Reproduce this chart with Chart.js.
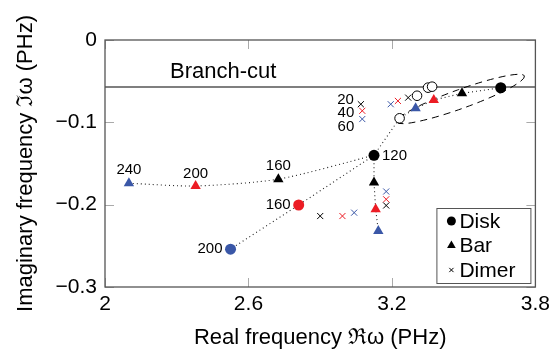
<!DOCTYPE html>
<html><head><meta charset="utf-8">
<script src="https://cdn.jsdelivr.net/npm/chart.js@4/dist/chart.umd.min.js"></script>
<style>html,body{margin:0;padding:0;background:#fff}canvas{display:block}</style>
</head><body>
<canvas id="c" width="555" height="352"></canvas>
<script>
// ---------- data ----------
const xTicks = [2, 2.6, 3.2, 3.8];
const yTicks = [0, -0.1, -0.2, -0.3];
const branchCutY = -0.057;

const diskBlack = [{x:3.655,y:-0.058},{x:3.125,y:-0.140}];
const diskRed   = [{x:2.81,y:-0.2004}];
const diskBlue  = [{x:2.525,y:-0.254}];
const diskOpen  = [{x:3.232,y:-0.0951},{x:3.305,y:-0.0677},{x:3.351,y:-0.0579},{x:3.368,y:-0.0567}];

const barBlack = [{x:3.493,y:-0.0648},{x:3.125,y:-0.173},{x:2.725,y:-0.169}];
const barRed   = [{x:3.375,y:-0.0729},{x:3.132,y:-0.2057},{x:2.379,y:-0.1773}];
const barBlue  = [{x:3.299,y:-0.083},{x:3.143,y:-0.232},{x:2.10,y:-0.174}];

const dimerBlack = [{x:3.07,y:-0.078},{x:3.268,y:-0.070},{x:3.176,y:-0.201},{x:2.90,y:-0.2138}];
const dimerRed   = [{x:3.076,y:-0.086},{x:3.225,y:-0.074},{x:3.176,y:-0.1935},{x:2.993,y:-0.2138}];
const dimerBlue  = [{x:3.076,y:-0.096},{x:3.195,y:-0.078},{x:3.176,y:-0.184},{x:3.042,y:-0.2097}];

const ellipseEnds = [{x:3.22,y:-0.0996},{x:3.754,y:-0.0437}];

const pointLabelTexts = ['240','200','160','160','200','120','20','40','60'];
const pointLabelAnchors = [barBlue[2], barRed[2], barBlack[2], diskRed[0], diskBlue[0], diskBlack[1], dimerBlack[0], dimerRed[0], dimerBlue[0]];
const legendLabels = ['Disk','Bar','Dimer'];
const branchCutText = 'Branch-cut';
const xTitle = 'Real frequency \u211Cω (PHz)';
const yTitle = 'Imaginary frequency \u2111ω (PHz)';

// ---------- styles ----------
const FONT = "'Liberation Sans', Arial, Helvetica, sans-serif";
const BLACK = '#000000', RED = '#ec1c24', BLUE = '#3a57a7';
const labelStyle = [
  {dx:0,dy:-13,align:'center'}, {dx:0,dy:-12,align:'center'}, {dx:0,dy:-13,align:'center'},
  {dx:-8,dy:0,align:'right'}, {dx:-8,dy:0,align:'right'}, {dx:8,dy:1,align:'left'},
  {dx:-7,dy:-4,align:'right'}, {dx:-8,dy:2,align:'right'}, {dx:-8,dy:8,align:'right'}
];

const paths = [
  [diskBlack[0], barBlack[0], barRed[0], barBlue[0], diskOpen[0], diskBlack[1]],
  [diskBlack[1], diskRed[0], diskBlue[0]],
  [barBlue[2], barRed[2], barBlack[2], diskBlack[1]],
  [diskBlack[1], barBlack[1], barRed[1], barBlue[1]]
];

function marker(data, style, color, radius, extra) {
  return Object.assign({
    data: data, showLine: false, order: 0,
    pointStyle: style, pointRadius: radius, pointHoverRadius: radius,
    pointBackgroundColor: color, pointBorderColor: color, pointBorderWidth: 0
  }, extra || {});
}

const datasets = [];
datasets.push(marker(diskBlack, 'circle', BLACK, 5.5));
datasets.push(marker(diskRed, 'circle', RED, 5.5));
datasets.push(marker(diskBlue, 'circle', BLUE, 5.5));
datasets.push(marker(diskOpen, 'circle', '#fff', 4.8, {pointBorderColor: BLACK, pointBorderWidth: 1}));
datasets.push(marker(barBlack, 'triangle', BLACK, 6));
datasets.push(marker(barRed, 'triangle', RED, 6));
datasets.push(marker(barBlue, 'triangle', BLUE, 6));
datasets.push(marker(dimerBlack, 'crossRot', BLACK, 4.3, {pointBorderWidth: 1}));
datasets.push(marker(dimerRed, 'crossRot', RED, 4.3, {pointBorderWidth: 1}));
datasets.push(marker(dimerBlue, 'crossRot', BLUE, 4.3, {pointBorderWidth: 1}));
paths.forEach((p, i) => datasets.push({
  data: p, showLine: true, order: 10, pointRadius: 0, borderColor: '#222', borderWidth: 1.1,
  borderDash: [1, 3], tension: i === 2 ? 0.25 : 0, fill: false
}));
datasets.push({
  data: [{x: xTicks[0], y: branchCutY}, {x: xTicks[xTicks.length-1], y: branchCutY}],
  showLine: true, order: 11, pointRadius: 0, borderColor: BLACK, borderWidth: 1.1, fill: false
});

function fmt(v) {
  const s = String(Math.round(v * 1000) / 1000);
  return s.replace('-', '\u2212');
}

const decor = {
  id: 'decor',
  beforeDatasetsDraw(chart) {
    const {ctx, scales: {x, y}} = chart;
    const x1 = x.getPixelForValue(ellipseEnds[0].x), y1 = y.getPixelForValue(ellipseEnds[0].y);
    const x2 = x.getPixelForValue(ellipseEnds[1].x), y2 = y.getPixelForValue(ellipseEnds[1].y);
    const cx = (x1 + x2) / 2, cy = (y1 + y2) / 2;
    const rx = Math.hypot(x2 - x1, y2 - y1) / 2, rot = Math.atan2(y2 - y1, x2 - x1);
    ctx.save();
    ctx.strokeStyle = BLACK; ctx.lineWidth = 1; ctx.setLineDash([7, 5]);
    ctx.beginPath(); ctx.ellipse(cx, cy, rx, 9.5, rot, 0, Math.PI * 2); ctx.stroke();
    ctx.restore();
  },
  afterDatasetsDraw(chart) {
    const {ctx, chartArea: a, scales: {x, y}} = chart;
    ctx.save();
    ctx.fillStyle = BLACK; ctx.font = '15px ' + FONT; ctx.textBaseline = 'middle';
    pointLabelTexts.forEach((t, i) => {
      const p = pointLabelAnchors[i], s = labelStyle[i];
      ctx.textAlign = s.align;
      ctx.fillText(t, x.getPixelForValue(p.x) + s.dx, y.getPixelForValue(p.y) + s.dy);
    });
    ctx.font = '22px ' + FONT; ctx.textAlign = 'left';
    ctx.fillText(branchCutText, a.left + 65, y.getPixelForValue(branchCutY) - 15);
    ctx.strokeStyle = '#aaaaaa'; ctx.lineWidth = 1; ctx.setLineDash([]);
    ctx.beginPath();
    xTicks.forEach(v => {
      const px = Math.round(x.getPixelForValue(v)) + 0.5;
      ctx.moveTo(px, a.top); ctx.lineTo(px, a.top + 9);
      ctx.moveTo(px, a.bottom); ctx.lineTo(px, a.bottom - 9);
    });
    yTicks.forEach(v => {
      const py = Math.round(y.getPixelForValue(v)) + 0.5;
      ctx.moveTo(a.left, py); ctx.lineTo(a.left + 9, py);
      ctx.moveTo(a.right, py); ctx.lineTo(a.right - 9, py);
    });
    ctx.stroke();
    ctx.strokeStyle = '#555555'; ctx.lineWidth = 1.3;
    ctx.strokeRect(a.left, a.top, a.right - a.left, a.bottom - a.top);
    const bw = 94, bh = 75, bx = a.right - 5 - bw, by = a.bottom - 4 - bh;
    ctx.fillStyle = '#fff'; ctx.fillRect(bx, by, bw, bh);
    ctx.strokeStyle = '#555555'; ctx.lineWidth = 1; ctx.strokeRect(bx + 0.5, by + 0.5, bw, bh);
    const styles = [{s:'circle',r:4.5,bw:0},{s:'triangle',r:5,bw:0},{s:'crossRot',r:3,bw:1}];
    ctx.font = '21px ' + FONT; ctx.textAlign = 'left'; ctx.textBaseline = 'middle';
    legendLabels.forEach((t, i) => {
      const ly = by + 13 + i * 24.5;
      ctx.fillStyle = BLACK; ctx.strokeStyle = BLACK;
      Chart.helpers.drawPoint(ctx, {pointStyle: styles[i].s, radius: styles[i].r, borderWidth: styles[i].bw, rotation: 0}, bx + 15, ly);
      ctx.fillStyle = BLACK;
      ctx.fillText(t, bx + 23, ly + 1);
    });
    ctx.restore();
  }
};

new Chart(document.getElementById('c'), {
  type: 'scatter',
  data: {datasets},
  options: {
    responsive: false, animation: false, devicePixelRatio: 1,
    layout: {padding: {top: 40, right: 18, left: 0, bottom: 0}},
    plugins: {legend: {display: false}, tooltip: {enabled: false}},
    scales: {
      x: {
        type: 'linear', min: xTicks[0], max: xTicks[xTicks.length-1],
        afterBuildTicks: s => { s.ticks = xTicks.map(v => ({value: v})); },
        afterFit: s => { s.height = 65; },
        grid: {display: false, drawTicks: false}, border: {display: false},
        ticks: {font: {family: FONT, size: 21}, color: BLACK, padding: 5, maxRotation: 0, callback: v => fmt(v)},
        title: {display: true, text: xTitle, color: BLACK, font: {family: FONT, size: 22}, padding: {top: 0, bottom: 1}}
      },
      y: {
        type: 'linear', min: yTicks[yTicks.length-1], max: yTicks[0],
        afterBuildTicks: s => { s.ticks = yTicks.map(v => ({value: v})); },
        afterFit: s => { s.width = 105; },
        grid: {display: false, drawTicks: false}, border: {display: false},
        ticks: {font: {family: FONT, size: 21}, color: BLACK, padding: 8, callback: v => fmt(v)},
        title: {display: true, text: yTitle, color: BLACK, font: {family: FONT, size: 22}, padding: {top: 13, bottom: 0}}
      }
    }
  },
  plugins: [decor]
});
</script>
</body></html>
